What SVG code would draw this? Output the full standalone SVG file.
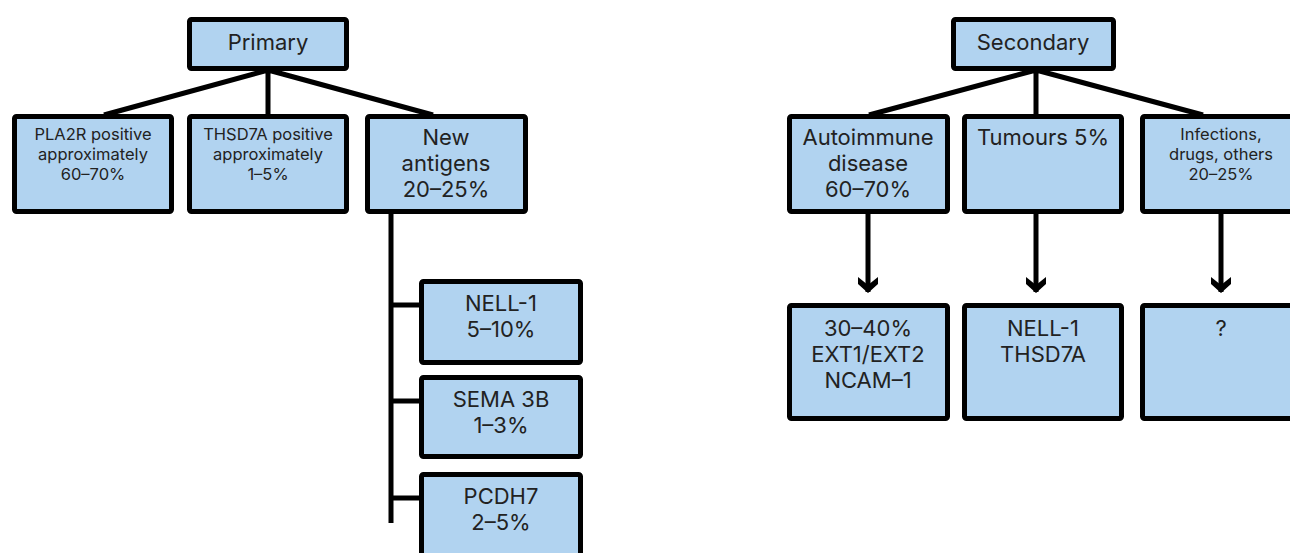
<svg xmlns="http://www.w3.org/2000/svg" width="1290" height="553" viewBox="0 0 1290 553">
<style>
.box{fill:#b1d3f0;stroke:#000;stroke-width:5;stroke-linejoin:round}
.ln{stroke:#000;stroke-width:5;fill:none}
.t{font-family:Inter,"Noto Sans",sans-serif;fill:#222;text-anchor:middle}
.l{font-size:22px}
.s{font-size:16.5px}
</style>
<defs>
<marker id="chev" viewBox="0 0 18 22" refX="16" refY="11" markerWidth="18" markerHeight="22" markerUnits="userSpaceOnUse" orient="auto">
<path d="M1,1 L9,11 L1,21 L8,21 L17,11 L8,1 Z" fill="#000"/>
</marker>
</defs>
<rect width="1290" height="553" fill="#fff"/>
<g id="connectors">
<path class="ln" d="M268,70 L104,115 M268,70 L268,115 M268,70 L433,115"/>
<path class="ln" d="M391,212 L391,523 M391,305 L420,305 M391,401 L420,401 M391,498 L420,498"/>
<path class="ln" d="M1036,70 L869,115 M1036,70 L1036,115 M1036,70 L1203,115"/>
<line class="ln" x1="868" y1="212" x2="868" y2="292" marker-end="url(#chev)"/>
<line class="ln" x1="1036" y1="212" x2="1036" y2="292" marker-end="url(#chev)"/>
<line class="ln" x1="1221" y1="212" x2="1221" y2="292" marker-end="url(#chev)"/>
</g>
<g id="primary"><rect class="box" x="189.5" y="19.5" width="157" height="49" rx="2"/><text class="t l" x="268" y="50">Primary</text></g>
<g id="pla2r"><rect class="box" x="14.5" y="116.5" width="157" height="95" rx="2"/><text class="t s" x="93" y="140">PLA2R positive</text><text class="t s" x="93" y="160">approximately</text><text class="t s" x="93" y="180">60–70%</text></g>
<g id="thsd7a"><rect class="box" x="189.5" y="116.5" width="157" height="95" rx="2"/><text class="t s" x="268" y="140">THSD7A positive</text><text class="t s" x="268" y="160">approximately</text><text class="t s" x="268" y="180">1–5%</text></g>
<g id="newantigens"><rect class="box" x="367.5" y="116.5" width="158" height="95" rx="2"/><text class="t l" x="446" y="145">New</text><text class="t l" x="446" y="171">antigens</text><text class="t l" x="446" y="197">20–25%</text></g>
<g id="nell1"><rect class="box" x="421.5" y="281.5" width="159" height="81" rx="2"/><text class="t l" x="501" y="311">NELL-1</text><text class="t l" x="501" y="337">5–10%</text></g>
<g id="sema3b"><rect class="box" x="421.5" y="377.5" width="159" height="79" rx="2"/><text class="t l" x="501" y="407">SEMA 3B</text><text class="t l" x="501" y="433">1–3%</text></g>
<g id="pcdh7"><rect class="box" x="421.5" y="474.5" width="159" height="90" rx="2"/><text class="t l" x="501" y="504">PCDH7</text><text class="t l" x="501" y="530">2–5%</text></g>
<g id="secondary"><rect class="box" x="953.5" y="19.5" width="160" height="49" rx="2"/><text class="t l" x="1033" y="50">Secondary</text></g>
<g id="autoimmune"><rect class="box" x="789.5" y="116.5" width="158" height="95" rx="2"/><text class="t l" x="868" y="145">Autoimmune</text><text class="t l" x="868" y="171">disease</text><text class="t l" x="868" y="197">60–70%</text></g>
<g id="tumours"><rect class="box" x="964.5" y="116.5" width="157" height="95" rx="2"/><text class="t l" x="1043" y="145">Tumours 5%</text></g>
<g id="infections"><rect class="box" x="1142.5" y="116.5" width="160" height="95" rx="2"/><text class="t s" x="1221" y="140">Infections,</text><text class="t s" x="1221" y="160">drugs, others</text><text class="t s" x="1221" y="180">20–25%</text></g>
<g id="autoantigens"><rect class="box" x="789.5" y="305.5" width="158" height="113" rx="2"/><text class="t l" x="868" y="336">30–40%</text><text class="t l" x="868" y="362">EXT1/EXT2</text><text class="t l" x="868" y="388">NCAM–1</text></g>
<g id="tumourantigens"><rect class="box" x="964.5" y="305.5" width="157" height="113" rx="2"/><text class="t l" x="1043" y="336">NELL-1</text><text class="t l" x="1043" y="362">THSD7A</text></g>
<g id="unknown"><rect class="box" x="1142.5" y="305.5" width="160" height="113" rx="2"/><text class="t l" x="1221" y="336">?</text></g>
</svg>
